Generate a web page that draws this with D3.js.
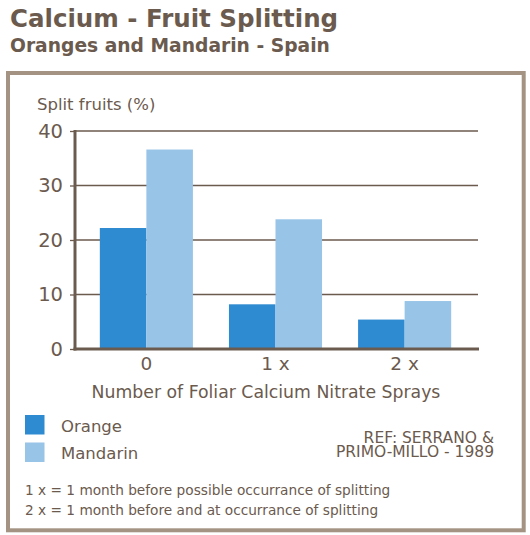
<!DOCTYPE html>
<html lang="en">
<head>
    <meta charset="UTF-8">
    <script src="https://d3js.org/d3.v7.min.js"></script>
    <title>Calcium - Fruit Splitting</title>
    <style>
        body {
            margin: 0;
            background: #fff;
        }
        text {
            fill: #6b5a4e;
            font-family: "DejaVu Sans", sans-serif;
        }
        .title { font-weight: 700; }
    </style>
</head>
<body>
    <svg id="chart" width="530" height="535"></svg>

    <script>
        // data
        const categories = ["0", "1 x", "2 x"];
        const seriesNames = ["Orange", "Mandarin"];
        const orange = [22.2, 8.2, 5.4];
        const mandarin = [36.6, 23.8, 8.8];
        const yTicks = [0, 10, 20, 30, 40];
        const notes = [
            "1 x = 1 month before possible occurrance of splitting",
            "2 x = 1 month before and at occurrance of splitting"
        ];
        const refLines = ["REF: SERRANO &", "PRIMO-MILLO - 1989"];

        const colors = ["#2f8bd1", "#98c4e8"];
        const ink = "#6b5a4e";

        const svg = d3.select("#chart");

        // titles
        svg.append("text").attr("class", "title")
            .attr("x", 10).attr("y", 27)
            .style("font-size", "24.5px")
            .text("Calcium - Fruit Splitting");
        svg.append("text").attr("class", "title")
            .attr("x", 10).attr("y", 52)
            .style("font-size", "18.7px")
            .text("Oranges and Mandarin - Spain");

        // frame
        svg.append("rect")
            .attr("x", 8).attr("y", 73)
            .attr("width", 515.7).attr("height", 457.3)
            .attr("fill", "none")
            .attr("stroke", "#a49383")
            .attr("stroke-width", 4);

        const x0 = d3.scaleBand()
            .domain(categories)
            .range([74, 477])
            .paddingInner(0.279)
            .paddingOuter(0.2);
        const x1 = d3.scaleBand()
            .domain(seriesNames)
            .range([0, x0.bandwidth()]);
        const y = d3.scaleLinear()
            .domain([0, 40])
            .range([349, 131]);

        // gridlines
        svg.append("g")
            .selectAll("line")
            .data(yTicks.filter(d => d > 0))
            .join("line")
            .attr("x1", 75).attr("x2", 478)
            .attr("y1", d => y(d)).attr("y2", d => y(d))
            .attr("stroke", ink)
            .attr("stroke-width", 1.3);

        // bars
        const rows = categories.map((c, i) => ({ cat: c, values: [orange[i], mandarin[i]] }));
        svg.append("g")
            .selectAll("g")
            .data(rows)
            .join("g")
            .attr("transform", d => `translate(${x0(d.cat)},0)`)
            .selectAll("rect")
            .data(d => d.values.map((v, j) => ({ name: seriesNames[j], value: v, j })))
            .join("rect")
            .attr("x", d => x1(d.name))
            .attr("width", x1.bandwidth())
            .attr("y", d => y(d.value))
            .attr("height", d => y(0) - y(d.value))
            .attr("fill", d => colors[d.j]);

        // y axis
        const yAxis = svg.append("g")
            .attr("transform", "translate(75,0)")
            .call(d3.axisLeft(y).tickValues(yTicks).tickSize(5).tickPadding(7));
        yAxis.select(".domain").remove();
        yAxis.selectAll(".tick line").attr("stroke", ink).attr("stroke-width", 1.3);
        yAxis.selectAll(".tick text")
            .style("font-family", "'DejaVu Sans', sans-serif")
            .style("font-size", "19.5px")
            .attr("fill", ink);
        svg.append("line")
            .attr("x1", 75).attr("x2", 75)
            .attr("y1", 130).attr("y2", 350.5)
            .attr("stroke", ink).attr("stroke-width", 3);

        // x axis
        svg.append("line")
            .attr("x1", 73.5).attr("x2", 479)
            .attr("y1", 349).attr("y2", 349)
            .attr("stroke", ink).attr("stroke-width", 3);
        svg.append("g")
            .selectAll("text")
            .data(categories)
            .join("text")
            .attr("x", d => x0(d) + x0.bandwidth() / 2)
            .attr("y", 370)
            .attr("text-anchor", "middle")
            .style("font-size", "18.5px")
            .text(d => d);

        svg.append("text")
            .attr("x", 37).attr("y", 110)
            .style("font-size", "16.5px")
            .text("Split fruits (%)");
        svg.append("text")
            .attr("x", 266).attr("y", 398)
            .attr("text-anchor", "middle")
            .style("font-size", "17.3px")
            .text("Number of Foliar Calcium Nitrate Sprays");

        // legend
        const legend = svg.append("g")
            .selectAll("g")
            .data(seriesNames)
            .join("g")
            .attr("transform", (d, i) => `translate(25,${415 + i * 27.5})`);
        legend.append("rect")
            .attr("width", 19.5).attr("height", 19.5)
            .attr("fill", (d, i) => colors[i]);
        legend.append("text")
            .attr("x", 36).attr("y", 16.5)
            .style("font-size", "16.5px")
            .text(d => d);

        // reference, one text block with two lines
        svg.append("text")
            .attr("y", 442.5)
            .attr("text-anchor", "end")
            .style("font-size", "15.5px")
            .selectAll("tspan")
            .data(refLines)
            .join("tspan")
            .attr("x", 494)
            .attr("dy", (d, i) => i === 0 ? 0 : 14.5)
            .text(d => d);

        svg.append("g")
            .selectAll("text")
            .data(notes)
            .join("text")
            .attr("x", 25)
            .attr("y", (d, i) => 495 + i * 20)
            .style("font-size", "13.7px")
            .text(d => d);
    </script>
</body>
</html>
